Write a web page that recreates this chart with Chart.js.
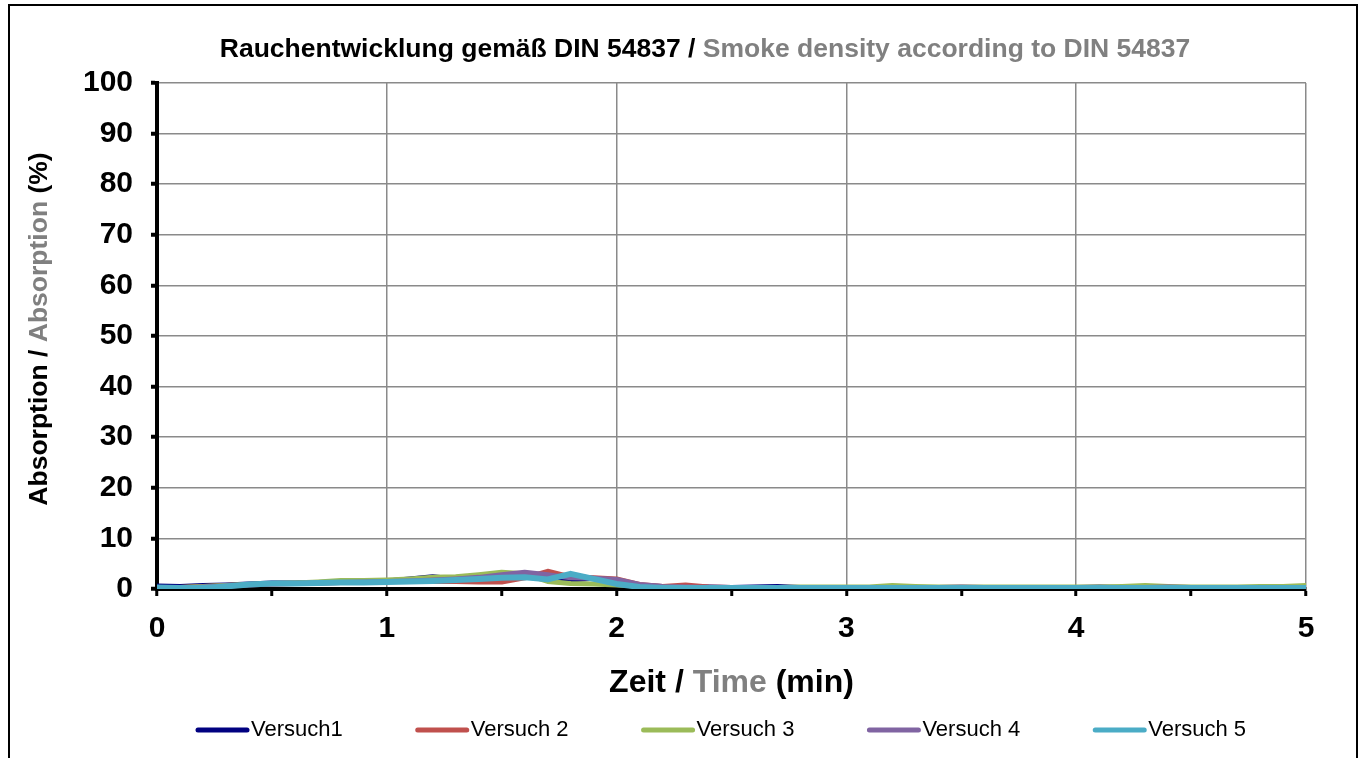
<!DOCTYPE html>
<html>
<head>
<meta charset="utf-8">
<script src="https://cdn.jsdelivr.net/npm/chart.js@4.4.1/dist/chart.umd.min.js"></script>
<style>
  html, body { margin: 0; padding: 0; background: #fff; }
  #wrap { width: 1361px; height: 758px; }
</style>
</head>
<body>
<div id="wrap"><canvas id="smokeChart" width="1361" height="758"></canvas></div>
<script>
// time in minutes
const times = [
  0.0, 0.1, 0.2, 0.3, 0.4, 0.5, 0.6, 0.7, 0.8, 0.9,
  1.0, 1.1, 1.2, 1.3, 1.4, 1.5, 1.6, 1.7, 1.8, 1.9,
  2.0, 2.1, 2.2, 2.3, 2.4, 2.5, 2.6, 2.7, 2.8, 2.9,
  3.0, 3.1, 3.2, 3.3, 3.4, 3.5, 3.6, 3.7, 3.8, 3.9,
  4.0, 4.1, 4.2, 4.3, 4.4, 4.5, 4.6, 4.7, 4.8, 4.9, 5.0
];

// absorption (%)
const versuch1 = [
  0.6, 0.5, 0.7, 0.8, 1.0, 1.2, 1.2, 1.3, 1.4, 1.5,
  1.6, 2.0, 2.4, 2.0, 2.2, 2.6, 2.8, 2.2, 1.8, 2.1,
  1.3, 0.7, 0.5, 0.4, 0.4, 0.3, 0.4, 0.5, 0.3, 0.3,
  0.3, 0.3, 0.3, 0.3, 0.3, 0.3, 0.3, 0.3, 0.3, 0.3,
  0.3, 0.4, 0.3, 0.3, 0.3, 0.3, 0.3, 0.3, 0.3, 0.3, 0.3
];
const versuch2 = [
  0.3, 0.3, 0.5, 0.7, 0.9, 1.0, 1.1, 1.2, 1.3, 1.4,
  1.5, 1.5, 1.5, 1.5, 1.4, 1.4, 2.2, 3.5, 2.4, 2.2,
  2.0, 0.9, 0.5, 0.8, 0.4, 0.3, 0.3, 0.3, 0.2, 0.2,
  0.2, 0.2, 0.2, 0.2, 0.2, 0.2, 0.2, 0.2, 0.2, 0.2,
  0.2, 0.2, 0.2, 0.2, 0.2, 0.2, 0.2, 0.2, 0.2, 0.2, 0.2
];
const versuch3 = [
  0.3, 0.3, 0.5, 0.7, 0.9, 1.1, 1.2, 1.4, 1.7, 1.7,
  1.8, 2.0, 2.3, 2.4, 2.8, 3.3, 3.0, 1.5, 1.1, 1.0,
  0.8, 0.6, 0.4, 0.3, 0.3, 0.3, 0.3, 0.3, 0.4, 0.4,
  0.4, 0.4, 0.7, 0.5, 0.4, 0.4, 0.4, 0.4, 0.4, 0.4,
  0.4, 0.4, 0.5, 0.7, 0.5, 0.4, 0.4, 0.4, 0.5, 0.5, 0.7
];
const versuch4 = [
  0.2, 0.2, 0.4, 0.6, 0.8, 1.0, 1.1, 1.2, 1.3, 1.4,
  1.5, 1.6, 1.8, 2.0, 2.3, 2.8, 3.3, 2.8, 2.2, 2.1,
  1.9, 0.9, 0.5, 0.4, 0.3, 0.3, 0.3, 0.3, 0.3, 0.3,
  0.3, 0.3, 0.3, 0.3, 0.3, 0.4, 0.3, 0.3, 0.3, 0.3,
  0.3, 0.3, 0.3, 0.3, 0.4, 0.3, 0.3, 0.3, 0.3, 0.3, 0.3
];
const versuch5 = [
  0.3, 0.2, 0.2, 0.5, 0.9, 1.1, 1.1, 1.2, 1.3, 1.3,
  1.4, 1.5, 1.6, 1.8, 2.0, 2.2, 2.3, 1.9, 3.0, 2.0,
  1.0, 0.4, 0.2, 0.2, 0.2, 0.2, 0.2, 0.2, 0.2, 0.2,
  0.2, 0.2, 0.2, 0.2, 0.2, 0.2, 0.2, 0.2, 0.2, 0.2,
  0.2, 0.2, 0.2, 0.2, 0.2, 0.2, 0.2, 0.2, 0.2, 0.2, 0.2
];

const seriesNames = ["Versuch1", "Versuch 2", "Versuch 3", "Versuch 4", "Versuch 5"];
const seriesColors = ["#000080", "#C0504D", "#9BBB59", "#8064A2", "#4BACC6"];
const seriesValues = [versuch1, versuch2, versuch3, versuch4, versuch5];

const xTickValues = [0, 0.5, 1, 1.5, 2, 2.5, 3, 3.5, 4, 4.5, 5];
const yTickValues = [0, 10, 20, 30, 40, 50, 60, 70, 80, 90, 100];

const FONT = '"Liberation Sans", Arial, sans-serif';
const gridColor = "#8a8a8a";
const grayText = "#808080";

// draws a centred line of text made of differently coloured parts
function drawParts(ctx, parts, x, y, font) {
  ctx.font = font;
  const total = parts.reduce((w, p) => w + ctx.measureText(p[0]).width, 0);
  let cx = x - total / 2;
  ctx.textAlign = "left";
  ctx.textBaseline = "middle";
  parts.forEach(([t, c]) => {
    ctx.fillStyle = c;
    ctx.fillText(t, cx, y);
    cx += ctx.measureText(t).width;
  });
}

const decorPlugin = {
  id: "decor",
  beforeDraw(chart) {
    const ctx = chart.ctx;
    ctx.save();
    ctx.fillStyle = "#fff";
    ctx.fillRect(0, 0, chart.width, chart.height);
    // outer frame (open at the bottom)
    ctx.strokeStyle = "#000";
    ctx.lineWidth = 2;
    ctx.strokeRect(9, 5, 1348, 780);
    ctx.restore();
  },
  afterDraw(chart) {
    const ctx = chart.ctx;
    const area = chart.chartArea;
    ctx.save();
    drawParts(ctx, [["Rauchentwicklung gemäß DIN 54837 / ", "#000"], ["Smoke density according to DIN 54837", grayText]],
      705, 50, "bold 26.5px " + FONT);

    drawParts(ctx, [["Zeit / ", "#000"], ["Time", grayText], [" (min)", "#000"]],
      (area.left + area.right) / 2, 683, "bold 32px " + FONT);

    ctx.save();
    ctx.translate(40, 329);
    ctx.rotate(-Math.PI / 2);
    drawParts(ctx, [["Absorption / ", "#000"], ["Absorption", grayText], [" (%)", "#000"]],
      0, 0, "bold 26.5px " + FONT);
    ctx.restore();

    // legend
    ctx.font = "22px " + FONT;
    ctx.textBaseline = "middle";
    ctx.textAlign = "left";
    let lx = 198;
    const ly = 730;
    chart.data.datasets.forEach(ds => {
      ctx.strokeStyle = ds.borderColor;
      ctx.lineWidth = 5;
      ctx.lineCap = "round";
      ctx.beginPath();
      ctx.moveTo(lx, ly);
      ctx.lineTo(lx + 49, ly);
      ctx.stroke();
      ctx.fillStyle = "#000";
      ctx.fillText(ds.label, lx + 53, ly);
      lx += 53 + ctx.measureText(ds.label).width + 75;
    });
    ctx.restore();
  }
};

const datasets = seriesNames.map((name, i) => ({
  label: name,
  data: times.map((t, j) => ({ x: t, y: seriesValues[i][j] })),
  borderColor: seriesColors[i],
  backgroundColor: seriesColors[i],
  borderWidth: i === 4 ? 6 : 5,
  pointRadius: 0,
  tension: 0,
  order: 5 - i
}));

new Chart(document.getElementById("smokeChart"), {
  type: "line",
  data: { datasets },
  plugins: [decorPlugin],
  options: {
    responsive: false,
    animation: false,
    layout: { padding: { left: 0, right: 55, top: 83, bottom: 0 } },
    plugins: {
      legend: { display: false },
      title: { display: false },
      tooltip: { enabled: false }
    },
    elements: { line: { borderJoinStyle: "round", borderCapStyle: "round" } },
    scales: {
      x: {
        type: "linear",
        min: 0,
        max: 5,
        afterFit: s => { s.height = 169; },
        afterBuildTicks: s => { s.ticks = xTickValues.map(v => ({ value: v })); },
        ticks: {
          autoSkip: false,
          maxRotation: 0,
          padding: 15,
          color: "#000",
          font: { family: FONT, size: 30, weight: "bold" },
          callback: v => Number.isInteger(v) ? String(v) : ""
        },
        grid: {
          color: c => (c.tick && Number.isInteger(c.tick.value) && c.tick.value > 0) ? gridColor : "rgba(0,0,0,0)",
          lineWidth: 1.5,
          tickColor: "#000",
          tickLength: 7,
          tickWidth: 3
        },
        border: { color: "#000", width: 4 }
      },
      y: {
        min: 0,
        max: 100,
        afterFit: s => { s.width = 157; },
        afterBuildTicks: s => { s.ticks = yTickValues.map(v => ({ value: v })); },
        ticks: {
          padding: 18,
          color: "#000",
          font: { family: FONT, size: 30, weight: "bold" }
        },
        grid: {
          color: c => (c.tick && c.tick.value > 0) ? gridColor : "rgba(0,0,0,0)",
          lineWidth: 1.5,
          tickColor: "#000",
          tickLength: 6,
          tickWidth: 4
        },
        border: { color: "#000", width: 4 }
      }
    }
  }
});
</script>
</body>
</html>
